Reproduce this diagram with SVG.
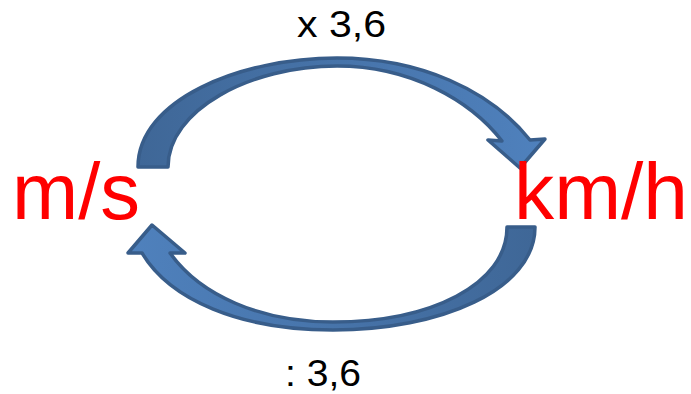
<svg xmlns="http://www.w3.org/2000/svg" width="691" height="394" viewBox="0 0 691 394">
<defs>
<linearGradient id="gTop" x1="0" y1="0" x2="1" y2="0">
<stop offset="0" stop-color="#3f6797"/>
<stop offset="1" stop-color="#4f81bd"/>
</linearGradient>
<linearGradient id="gBot" x1="1" y1="0" x2="0" y2="0">
<stop offset="0" stop-color="#3f6797"/>
<stop offset="1" stop-color="#4f81bd"/>
</linearGradient>
<style>
.arr{stroke:#385d8a;stroke-width:3.5;stroke-linejoin:round}
.unit{font-family:"Liberation Sans",Arial,sans-serif;font-size:80px;fill:#ff0000}
.lbl{font-family:"Liberation Sans",Arial,sans-serif;font-size:36px;fill:#000}
</style>
</defs>
<g id="connectors">
<path class="arr" fill="url(#gTop)" d="M138,167 C138,100 240,58 337,58 C420,58 490,90 530,140 L545,139 L520,168 L488,140 L502,141 C470,100 410,66 337,66 C250,66 168,110 168,167 Z"/>
<path class="arr" fill="url(#gBot)" d="M507,227 L535,227 C535,290 440,330 333,330 C240,330 170,300 142,253 L128,253 L152,225 L185,253 L170,253 C200,295 260,322 333,322 C430,322 507,285 507,227 Z"/>
</g>
<g id="node-ms"><text class="unit" x="12" y="219" textLength="128" lengthAdjust="spacingAndGlyphs">m/s</text></g>
<g id="node-kmh"><text class="unit" x="514" y="219" textLength="174" lengthAdjust="spacingAndGlyphs">km/h</text></g>
<g id="label-top"><text class="lbl" x="297" y="37" textLength="89" lengthAdjust="spacingAndGlyphs">x 3,6</text></g>
<g id="label-bottom"><text class="lbl" x="285" y="386" textLength="76" lengthAdjust="spacingAndGlyphs">: 3,6</text></g>
</svg>
